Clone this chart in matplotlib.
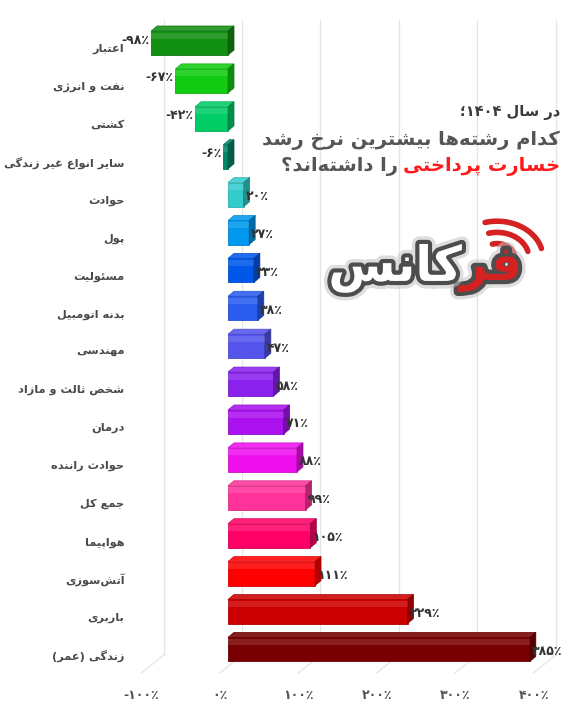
import re
import numpy as np
import matplotlib
matplotlib.use("Agg")
import matplotlib.pyplot as plt
import matplotlib.colors as mcolors
import matplotlib.patheffects as pe
from matplotlib.patches import Polygon
from matplotlib.transforms import ScaledTranslation

categories = ['اعتبار', 'نفت و انرژی', 'کشتی', 'سایر انواع غیر زندگی', 'حوادث', 'پول',
              'مسئولیت', 'بدنه اتومبیل', 'مهندسی', 'شخص ثالث و مازاد', 'درمان',
              'حوادث راننده', 'جمع کل', 'هواپیما', 'آتش‌سوزی', 'باربری', 'زندگی (عمر)']
growth = [-98, -67, -42, -6, 20, 27, 33, 38, 47, 58, 71, 88, 99, 105, 111, 229, 385]
bar_colors = ['#118f11', '#11cc11', '#00cc66', '#00876a', '#33cccc', '#0099ee', '#0058ea',
              '#2a5cf0', '#5555ee', '#8a22ee', '#aa11ee', '#ee11ee', '#ff3399', '#ff0066',
              '#ff0000', '#cc0000', '#780000']
x_ticks = [-100, 0, 100, 200, 300, 400]

title_1 = 'در سال ۱۴۰۴؛'
title_2 = 'کدام رشته‌ها بیشترین نرخ رشد'
title_3_red = 'خسارت پرداختی'
title_3_rest = 'را داشته‌اند؟'

# --- minimal persian shaping (matplotlib has no bidi / joining) ---
DUAL = {'ب': 0xFE8F, 'ت': 0xFE95, 'ث': 0xFE99, 'ج': 0xFE9D, 'ح': 0xFEA1, 'خ': 0xFEA5,
        'س': 0xFEB1, 'ش': 0xFEB5, 'ص': 0xFEB9, 'ض': 0xFEBD, 'ط': 0xFEC1, 'ظ': 0xFEC5,
        'ع': 0xFEC9, 'غ': 0xFECD, 'ف': 0xFED1, 'ق': 0xFED5, 'ل': 0xFEDD, 'م': 0xFEE1,
        'ن': 0xFEE5, 'ه': 0xFEE9, 'ئ': 0xFE89, 'پ': 0xFB56, 'چ': 0xFB7A, 'ک': 0xFB8E,
        'گ': 0xFB92, 'ی': 0xFBFC}
RIGHT = {'ا': 0xFE8D, 'آ': 0xFE81, 'د': 0xFEA9, 'ذ': 0xFEAB, 'ر': 0xFEAD, 'ز': 0xFEAF,
         'و': 0xFEED, 'ژ': 0xFB8A}
FA_DIGITS = str.maketrans('0123456789', '۰۱۲۳۴۵۶۷۸۹')


def fa(text):
    out = []
    for i, ch in enumerate(text):
        if ch not in DUAL and ch not in RIGHT:
            if ch != '\u200c':
                out.append(ch)
            continue
        prev = text[i - 1] if i > 0 else ''
        nxt = text[i + 1] if i + 1 < len(text) else ''
        join_prev = prev in DUAL
        join_next = ch in DUAL and (nxt in DUAL or nxt in RIGHT)
        base = DUAL.get(ch, RIGHT.get(ch))
        if join_prev and join_next:
            code = base + 3
        elif join_next:
            code = base + 2
        elif join_prev:
            code = base + 1
        else:
            code = base
        out.append(chr(code))
    s = ''.join(out)[::-1]
    s = re.sub('[۰-۹]+', lambda m: m.group()[::-1], s)
    return s.translate(str.maketrans('()', ')('))


def pct(v):
    return ('-' if v < 0 else '') + str(abs(v)).translate(FA_DIGITS) + '٪'


def shade(c, k):
    r = np.array(mcolors.to_rgb(c))
    if k < 0:
        return tuple(r * (1 + k))
    return tuple(r + (1 - r) * k)


plt.rcParams['font.family'] = ['DejaVu Sans']
W, H = 576, 720
fig = plt.figure(figsize=(W / 100, H / 100), dpi=100)

zero_px, ppu = 228, 0.784
step, top_c = 37.9, 43
ax_l, ax_r = 130, 570
ax_t, ax_b = top_c - 0.6 * step, top_c + 16.6 * step
ax = fig.add_axes([ax_l / W, 1 - ax_b / H, (ax_r - ax_l) / W, (ax_b - ax_t) / H])
ax.set_xlim((ax_l - zero_px) / ppu, (ax_r - zero_px) / ppu)
ax.set_ylim(16.6, -0.6)
UX = 1 / ppu
UY = 1 / step

ypos = np.arange(len(categories))
ax.set_yticks(ypos, labels=[fa(c) for c in categories])
ax.set_xticks(x_ticks, labels=[pct(t) for t in x_ticks])
ax.tick_params(length=0)
ax.tick_params(axis='y', pad=4)
ax.tick_params(axis='x', pad=12)
for lab in ax.get_yticklabels():
    lab.set_fontsize(8.2)
    lab.set_fontweight('bold')
    lab.set_color('#4a4a4a')
    lab.set_transform(lab.get_transform() + ScaledTranslation(0, -5 / 100, fig.dpi_scale_trans))
for lab in ax.get_xticklabels():
    lab.set_fontsize(9)
    lab.set_fontweight('bold')
    lab.set_color('#555555')
    lab.set_transform(lab.get_transform() + ScaledTranslation(-8 / 100, 0, fig.dpi_scale_trans))
for sp in ax.spines.values():
    sp.set_visible(False)

# back-wall grid + floor lines
for t in x_ticks:
    ax.plot([t + 14 * UX] * 2, [-0.6, 16.15], color='#e4e4e4', lw=0.9, zorder=0)
    ax.plot([t + 14 * UX, t - 8 * UX], [16.15, 16.62], color='#e4e4e4', lw=0.9,
            zorder=0, clip_on=False)

bars = ax.barh(ypos, growth, height=0.634, color=bar_colors, zorder=3,
               edgecolor=[shade(c, -0.15) for c in bar_colors], linewidth=0.6)

dx, dy = 6 * UX, 5 * UY
for rect, c in zip(bars, bar_colors):
    x0 = min(rect.get_x(), rect.get_x() + rect.get_width())
    x1 = max(rect.get_x(), rect.get_x() + rect.get_width())
    yt = rect.get_y()
    yb = yt + rect.get_height()
    top = Polygon([(x0, yt), (x1, yt), (x1 + dx, yt - dy), (x0 + dx, yt - dy)],
                  closed=True, fc=shade(c, 0.12), ec=shade(c, -0.15), lw=0.5, zorder=3)
    side = Polygon([(x1, yt), (x1 + dx, yt - dy), (x1 + dx, yb - dy), (x1, yb)],
                   closed=True, fc=shade(c, -0.3), ec=shade(c, -0.4), lw=0.5, zorder=3)
    ax.add_patch(top)
    ax.add_patch(side)
    # light band on the front face
    ax.fill_between([x0, x1], yt + 0.04, yt + 0.2, color='white', alpha=0.12, lw=0, zorder=4)

for y, v in zip(ypos, growth):
    if v < 0:
        ax.annotate(pct(v), (v, y), xytext=(-2, 3), textcoords='offset pixels',
                    ha='right', va='center', fontsize=9, fontweight='bold', color='#333333',
                    zorder=5)
    else:
        ax.annotate(pct(v), (v, y), xytext=(2, -2), textcoords='offset pixels',
                    ha='left', va='center', fontsize=9, fontweight='bold', color='#333333',
                    zorder=5)

# overlay in pixel coordinates for the title and logo
ov = fig.add_axes([0, 0, 1, 1], zorder=5)
ov.set_xlim(0, W)
ov.set_ylim(H, 0)
ov.axis('off')

ov.text(560, 113, fa(title_1), ha='right', va='center', fontsize=10.5,
        fontweight='bold', color='#3a3a3a')
ov.text(560, 140, fa(title_2), ha='right', va='center', fontsize=14,
        fontweight='bold', color='#555555')
red = ov.text(560, 167, fa(title_3_red), ha='right', va='center', fontsize=14,
              fontweight='bold', color='#ff1a1a')

logo_fx = [pe.Stroke(linewidth=11, foreground='#c4c4c4', alpha=0.55),
           pe.Stroke(linewidth=6, foreground='#4d4d4d'), pe.Normal()]
logo_red = ov.text(522, 268, fa('فر'), ha='right', va='center', fontsize=35,
                   fontweight='bold', color='#d42121', path_effects=logo_fx)

fig.canvas.draw()
inv = ov.transData.inverted()
red_left = inv.transform((red.get_window_extent().x0, 0))[0]
ov.text(red_left - 5, 167, fa(title_3_rest), ha='right', va='center', fontsize=14,
        fontweight='bold', color='#555555')
logo_left = inv.transform((logo_red.get_window_extent().x0, 0))[0]
ov.text(logo_left + 2, 268, fa('کانس'), ha='right', va='center', fontsize=35,
        fontweight='bold', color='white', path_effects=logo_fx)

# signal arcs of the logo
cx, cy = 497, 258
for r in [18, 32, 46]:
    t = np.radians(np.linspace(15, 105, 40))
    ov.plot(cx + r * np.cos(t), cy - r * np.sin(t) * 0.8, color='#d42121', lw=4,
            solid_capstyle='round')

fig.savefig('out.png', dpi=100)
